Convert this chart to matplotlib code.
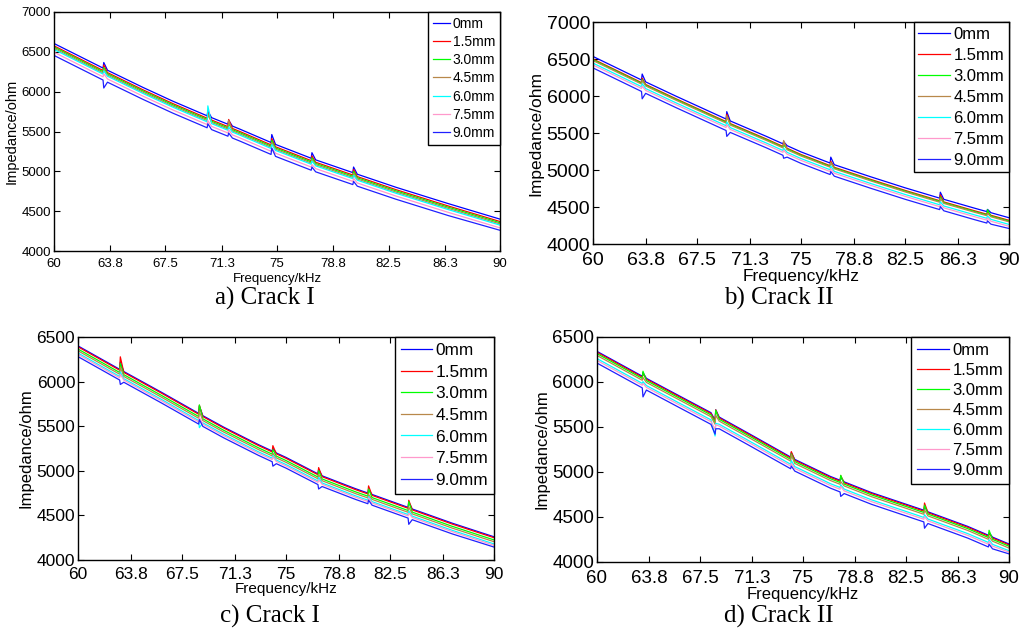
import matplotlib
matplotlib.use("Agg")
import matplotlib.pyplot as plt

plt.rcParams['font.family'] = ['Liberation Sans', 'DejaVu Sans']

labels = ["0mm", "1.5mm", "3.0mm", "4.5mm", "6.0mm", "7.5mm", "9.0mm"]
colors = ["#0000FF", "#FF0000", "#00FF00", "#B8884A", "#00FFFF", "#FF99CC", "#2020FF"]
xticks = [60, 63.8, 67.5, 71.3, 75, 78.8, 82.5, 86.3, 90]
xticklabels = ["60", "63.8", "67.5", "71.3", "75", "78.8", "82.5", "86.3", "90"]

# ---------------- panel a) Crack I ----------------
freq_a = [60, 63.3, 63.35, 63.6, 66, 68, 70.3, 70.35, 70.6, 71.7, 71.75, 72.0, 72.5,
          74.6, 74.65, 74.9, 77, 77.3, 77.35, 77.6, 80.1, 80.15, 80.4, 83, 86.5, 90]
a_0mm = [6605, 6296, 6366, 6269, 6052, 5880, 5697, 5757, 5674, 5591, 5641, 5568, 5530,
         5362, 5462, 5338, 5186, 5164, 5234, 5144, 4984, 5054, 4964, 4800, 4596, 4400]
a_1p5 = [6575, 6266, 6336, 6239, 6022, 5850, 5667, 5737, 5644, 5561, 5651, 5538, 5500,
         5332, 5412, 5308, 5156, 5134, 5194, 5114, 4954, 5024, 4934, 4770, 4566, 4370]
a_3p0 = [6560, 6251, 6301, 6224, 6007, 5835, 5652, 5712, 5629, 5546, 5596, 5523, 5485,
         5317, 5387, 5293, 5141, 5119, 5169, 5099, 4939, 4999, 4919, 4755, 4551, 4355]
a_4p5 = [6545, 6236, 6276, 6209, 5992, 5820, 5637, 5717, 5614, 5531, 5641, 5508, 5470,
         5302, 5362, 5278, 5126, 5104, 5144, 5084, 4924, 4974, 4904, 4740, 4536, 4340]
a_6p0 = [6530, 6221, 6261, 6194, 5977, 5805, 5622, 5822, 5599, 5516, 5556, 5493, 5455,
         5287, 5337, 5263, 5111, 5089, 5129, 5069, 4909, 4949, 4889, 4725, 4521, 4325]
a_7p5 = [6495, 6186, 6226, 6159, 5942, 5770, 5587, 5637, 5564, 5481, 5521, 5458, 5420,
         5252, 5292, 5228, 5076, 5054, 5084, 5034, 4874, 4914, 4854, 4690, 4486, 4290]
a_9p0 = [6455, 6146, 6046, 6119, 5902, 5730, 5547, 5597, 5524, 5441, 5481, 5418, 5380,
         5212, 5292, 5188, 5036, 5014, 5054, 4994, 4834, 4874, 4814, 4650, 4446, 4260]

# ---------------- panel b) Crack II ----------------
freq_b = [60, 63.5, 63.55, 63.8, 66, 69.6, 69.65, 69.9, 72.5, 73.7, 73.75, 74.0, 75,
          77.1, 77.15, 77.4, 80, 82.5, 85.0, 85.05, 85.3, 87.5, 88.4, 88.45, 88.7, 90]
b_0mm = [6535, 6217, 6297, 6191, 5997, 5689, 5789, 5663, 5455, 5354, 5384, 5329, 5245,
         5094, 5174, 5072, 4910, 4760, 4620, 4700, 4604, 4485, 4438, 4468, 4423, 4355]
b_1p5 = [6500, 6182, 6242, 6156, 5962, 5654, 5754, 5628, 5420, 5319, 5379, 5294, 5210,
         5059, 5119, 5037, 4875, 4725, 4585, 4665, 4569, 4450, 4403, 4433, 4388, 4320]
b_3p0 = [6490, 6172, 6222, 6146, 5952, 5644, 5724, 5618, 5410, 5309, 5339, 5284, 5200,
         5049, 5099, 5027, 4865, 4715, 4575, 4635, 4559, 4440, 4393, 4463, 4378, 4310]
b_4p5 = [6480, 6162, 6212, 6136, 5942, 5634, 5734, 5608, 5400, 5299, 5399, 5274, 5190,
         5039, 5099, 5017, 4855, 4705, 4565, 4615, 4549, 4430, 4383, 4413, 4368, 4300]
b_6p0 = [6445, 6127, 6167, 6101, 5907, 5599, 5649, 5573, 5365, 5264, 5294, 5239, 5155,
         5004, 5054, 4982, 4820, 4670, 4530, 4570, 4514, 4395, 4348, 4378, 4333, 4265]
b_7p5 = [6420, 6102, 6132, 6076, 5882, 5574, 5614, 5548, 5340, 5239, 5269, 5214, 5130,
         4979, 5019, 4957, 4795, 4645, 4505, 4535, 4489, 4370, 4323, 4353, 4308, 4240]
b_9p0 = [6380, 6062, 5962, 6036, 5842, 5534, 5454, 5508, 5300, 5199, 5159, 5174, 5090,
         4939, 4979, 4917, 4755, 4605, 4465, 4505, 4449, 4330, 4283, 4313, 4268, 4210]

# ---------------- panel c) Crack I ----------------
freq_c = [60, 63.0, 63.05, 63.3, 66, 68.7, 68.75, 69.0, 70.5, 73, 74.0, 74.05, 74.3, 75,
          77.3, 77.35, 77.6, 80, 80.9, 80.95, 81.2, 83.8, 83.85, 84.1, 87, 90]
c_0mm = [6400, 6138, 6218, 6113, 5882, 5644, 5724, 5618, 5490, 5294, 5222, 5252, 5200, 5150,
         4966, 5016, 4944, 4800, 4751, 4791, 4735, 4590, 4650, 4572, 4412, 4260]
c_1p5 = [6390, 6128, 6278, 6103, 5872, 5634, 5734, 5608, 5480, 5284, 5212, 5282, 5190, 5140,
         4956, 5036, 4934, 4790, 4741, 4831, 4725, 4580, 4670, 4562, 4402, 4250]
c_3p0 = [6365, 6103, 6203, 6078, 5847, 5609, 5739, 5583, 5455, 5259, 5187, 5237, 5165, 5115,
         4931, 5001, 4909, 4765, 4716, 4796, 4700, 4555, 4655, 4537, 4377, 4225]
c_4p5 = [6345, 6083, 6163, 6058, 5827, 5589, 5669, 5563, 5435, 5239, 5167, 5197, 5145, 5095,
         4911, 4961, 4889, 4745, 4696, 4736, 4680, 4535, 4595, 4517, 4357, 4205]
c_6p0 = [6320, 6058, 6108, 6033, 5802, 5564, 5484, 5538, 5410, 5214, 5142, 5172, 5120, 5070,
         4886, 4926, 4864, 4720, 4671, 4711, 4655, 4510, 4550, 4492, 4332, 4180]
c_7p5 = [6305, 6043, 6083, 6018, 5787, 5549, 5599, 5523, 5395, 5199, 5127, 5157, 5105, 5055,
         4871, 4901, 4849, 4705, 4656, 4696, 4640, 4495, 4525, 4477, 4317, 4165]
c_9p0 = [6280, 6018, 5968, 5993, 5762, 5524, 5574, 5498, 5370, 5174, 5102, 5052, 5080, 5030,
         4846, 4796, 4824, 4680, 4631, 4671, 4615, 4470, 4400, 4452, 4292, 4145]

# ---------------- panel d) Crack II ----------------
freq_d = [60, 63.3, 63.35, 63.6, 66, 68.3, 68.6, 68.65, 68.9, 71, 74.1, 74.15, 74.4,
          77, 77.7, 77.75, 78.0, 80, 83.8, 83.85, 84.1, 87, 88.5, 88.55, 88.8, 90]
d_0mm = [6340, 6064, 6104, 6040, 5845, 5659, 5575, 5690, 5610, 5432, 5166, 5216, 5140,
         4950, 4908, 4938, 4890, 4770, 4575, 4615, 4557, 4395, 4297, 4327, 4276, 4200]
d_1p5 = [6330, 6054, 6094, 6030, 5835, 5649, 5565, 5690, 5600, 5422, 5156, 5226, 5130,
         4940, 4898, 4958, 4880, 4760, 4565, 4655, 4547, 4385, 4287, 4317, 4266, 4190]
d_3p0 = [6315, 6039, 6119, 6015, 5820, 5634, 5550, 5685, 5585, 5407, 5141, 5201, 5115,
         4925, 4883, 4963, 4865, 4745, 4550, 4630, 4532, 4370, 4272, 4352, 4251, 4175]
d_4p5 = [6295, 6019, 6049, 5995, 5800, 5614, 5530, 5630, 5565, 5387, 5121, 5191, 5095,
         4905, 4863, 4893, 4845, 4725, 4530, 4580, 4512, 4350, 4252, 4282, 4231, 4155]
d_6p0 = [6260, 5984, 6004, 5960, 5765, 5579, 5400, 5540, 5530, 5352, 5086, 5126, 5060,
         4870, 4828, 4858, 4810, 4690, 4495, 4525, 4477, 4315, 4217, 4247, 4196, 4125]
d_7p5 = [6240, 5964, 5984, 5940, 5745, 5559, 5475, 5525, 5510, 5332, 5066, 5096, 5040,
         4850, 4808, 4838, 4790, 4670, 4475, 4505, 4457, 4295, 4197, 4227, 4176, 4110]
d_9p0 = [6210, 5934, 5834, 5910, 5715, 5529, 5420, 5480, 5480, 5302, 5036, 5066, 5010,
         4820, 4778, 4728, 4760, 4640, 4445, 4375, 4427, 4265, 4167, 4197, 4146, 4090]

panels = [
    dict(freq=freq_a, series=[a_0mm, a_1p5, a_3p0, a_4p5, a_6p0, a_7p5, a_9p0],
         rect=[0.0525, 0.6022, 0.4339, 0.3788], ylim=(4000, 7000),
         yticks=[4000, 4500, 5000, 5500, 6000, 6500, 7000],
         tick_fs=9.5, xpad=5, lab_fs=9.5, xlabpad=2, ylab_fs=10.5, leg_fs=10, hl=1.2,
         ls=0.3, bp=0.35, caption="a) Crack I", cap_xy=(265, 298)),
    dict(freq=freq_b, series=[b_0mm, b_1p5, b_3p0, b_4p5, b_6p0, b_7p5, b_9p0],
         rect=[0.5768, 0.6133, 0.4047, 0.3518], ylim=(4000, 7000),
         yticks=[4000, 4500, 5000, 5500, 6000, 6500, 7000],
         tick_fs=14, xpad=6, lab_fs=12.5, xlabpad=0, ylab_fs=12.5, leg_fs=12, hl=1.9,
         ls=0.36, bp=0.28, caption="b) Crack II", cap_xy=(779, 298)),
    dict(freq=freq_c, series=[c_0mm, c_1p5, c_3p0, c_4p5, c_6p0, c_7p5, c_9p0],
         rect=[0.0759, 0.1125, 0.4047, 0.3534], ylim=(4000, 6500),
         yticks=[4000, 4500, 5000, 5500, 6000, 6500],
         tick_fs=12.5, xpad=5, lab_fs=11, xlabpad=0, ylab_fs=12, leg_fs=12.4, hl=1.8,
         ls=0.38, bp=0.35, caption="c) Crack I", cap_xy=(270, 616)),
    dict(freq=freq_d, series=[d_0mm, d_1p5, d_3p0, d_4p5, d_6p0, d_7p5, d_9p0],
         rect=[0.5807, 0.1094, 0.4008, 0.3566], ylim=(4000, 6500),
         yticks=[4000, 4500, 5000, 5500, 6000, 6500],
         tick_fs=13.5, xpad=6, lab_fs=12, xlabpad=0, ylab_fs=12, leg_fs=12, hl=1.9,
         ls=0.3, bp=0.35, caption="d) Crack II", cap_xy=(779, 616)),
]

W, H = 1028, 631
fig = plt.figure(figsize=(W / 100, H / 100), dpi=100)

for p in panels:
    ax = fig.add_axes(p["rect"])
    for vals, lab, col in zip(p["series"], labels, colors):
        ax.plot(p["freq"], vals, color=col, lw=0.9, label=lab)
    ax.set_xlim(60, 90)
    ax.set_ylim(*p["ylim"])
    ax.set_xticks(xticks)
    ax.set_xticklabels(xticklabels)
    ax.set_yticks(p["yticks"])
    ax.tick_params(direction="in", top=True, right=True, length=4, width=0.8,
                   labelsize=p["tick_fs"], pad=2)
    ax.tick_params(axis="x", pad=p["xpad"])
    for s in ax.spines.values():
        s.set_linewidth(1.0)
    ax.set_xlabel("Frequency/kHz", fontsize=p["lab_fs"], labelpad=p["xlabpad"])
    ax.set_ylabel("Impedance/ohm", fontsize=p["ylab_fs"], labelpad=2)
    leg = ax.legend(loc="upper right", fontsize=p["leg_fs"], frameon=True,
                    fancybox=False, edgecolor="black", framealpha=1,
                    borderaxespad=0, handlelength=p["hl"], handletextpad=0.2,
                    labelspacing=p["ls"], borderpad=p["bp"])
    leg.get_frame().set_linewidth(1.0)
    fig.text(p["cap_xy"][0] / W, 1 - p["cap_xy"][1] / H, p["caption"],
             ha="center", va="center", fontsize=18,
             family=["Liberation Serif", "DejaVu Serif"])

fig.savefig("out.png", dpi=100)
